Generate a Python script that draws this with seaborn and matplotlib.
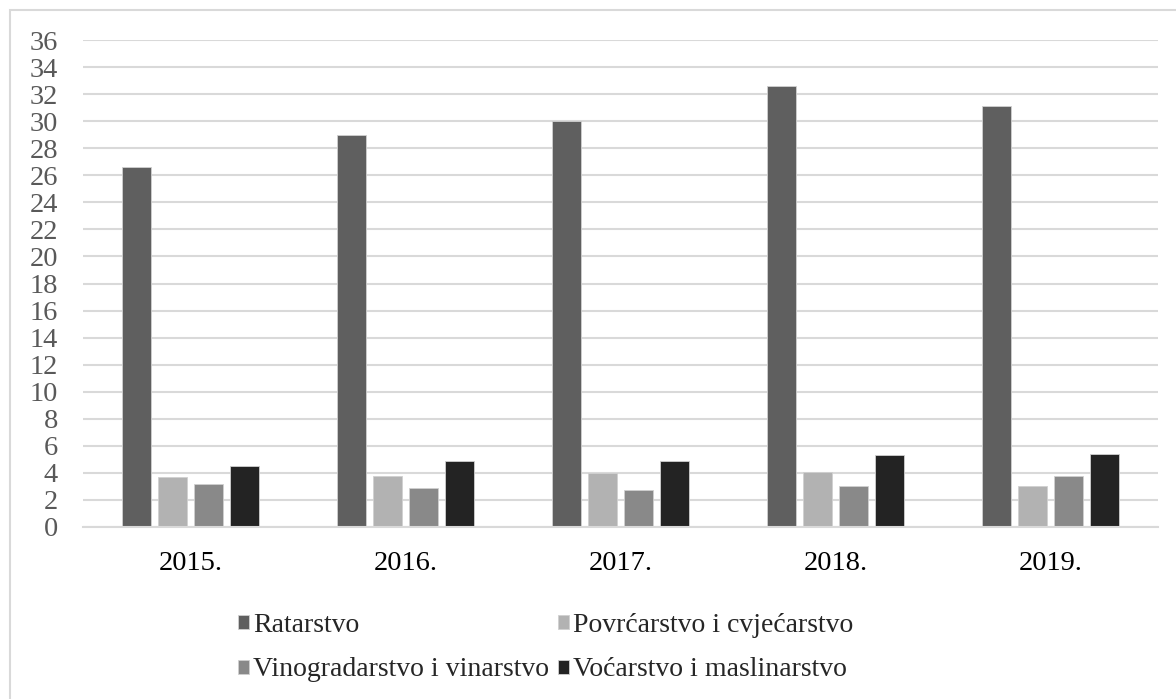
import matplotlib
matplotlib.use("Agg")
import matplotlib.pyplot as plt
import seaborn as sns
import pandas as pd
import numpy as np
from matplotlib.patches import Rectangle

years = ["2015.", "2016.", "2017.", "2018.", "2019."]
series_names = ["Ratarstvo", "Povrćarstvo i cvjećarstvo",
                "Vinogradarstvo i vinarstvo", "Voćarstvo i maslinarstvo"]
ratarstvo = [26.6, 29.0, 30.0, 32.6, 31.1]
povrcarstvo = [3.7, 3.8, 4.0, 4.1, 3.0]
vinogradarstvo = [3.2, 2.9, 2.7, 3.0, 3.8]
vocarstvo = [4.5, 4.9, 4.9, 5.3, 5.4]
colors = ["#5f5f5f", "#b2b2b2", "#898989", "#232323"]
y_ticks = list(range(0, 37, 2))

rows = []
for name, vals in zip(series_names, [ratarstvo, povrcarstvo, vinogradarstvo, vocarstvo]):
    for y, v in zip(years, vals):
        rows.append({"Godina": y, "Sektor": name, "Vrijednost": v})
df = pd.DataFrame(rows)

sns.set_theme(style="white")
plt.rcParams["font.family"] = ["Liberation Serif", "DejaVu Serif"]

fig = plt.figure(figsize=(11.76, 6.99), dpi=100)
ax = fig.add_axes([83/1176, 1-527/699, (1158-83)/1176, (527-40)/699])

sns.barplot(data=df, x="Godina", y="Vrijednost", hue="Sektor", order=years,
            hue_order=series_names, palette=colors, width=0.67, gap=0.22,
            edgecolor="#d0d0d0", linewidth=0.6, ax=ax, errorbar=None)

ax.set_ylim(0, 36)
ax.set_xlim(-0.5, 4.5)
ax.set_yticks(y_ticks)
ax.set_yticklabels([str(t) for t in y_ticks], fontsize=20.5, color="#595959")
ax.tick_params(axis="y", length=0, pad=18)
ax.tick_params(axis="x", length=0, pad=17, labelsize=20.5, labelcolor="#000000")
ax.set_xlabel("")
ax.set_ylabel("")
ax.yaxis.grid(True, color="#d9d9d9", linewidth=1.5)
ax.set_axisbelow(True)
for s in ["left", "right", "top"]:
    ax.spines[s].set_visible(False)
ax.spines["bottom"].set_color("#d9d9d9")
ax.spines["bottom"].set_linewidth(1.5)

handles, labels = ax.get_legend_handles_labels()
ax.get_legend().remove()
order = [0, 2, 1, 3]
fig.legend([handles[i] for i in order], [labels[i] for i in order],
           ncol=2, loc="upper left", bbox_to_anchor=(238/1176, 1-613/699),
           frameon=False, fontsize=20, handlelength=0.4, handleheight=0.4,
           handletextpad=0.15, columnspacing=0.3, labelspacing=0.7,
           borderpad=0, borderaxespad=0)

fig.patches.append(Rectangle((10/1176, -0.05), 1.2, 1-10/699+0.05,
                             transform=fig.transFigure, fill=False,
                             edgecolor="#d9d9d9", linewidth=1.5))

fig.savefig("out.png", dpi=100)
